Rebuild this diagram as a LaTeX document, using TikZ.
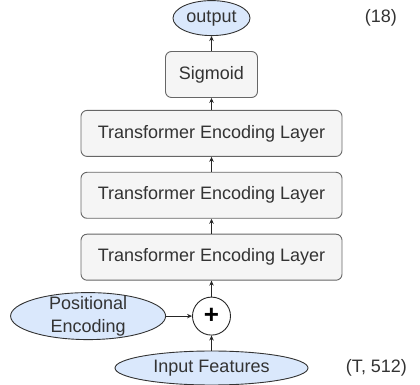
\documentclass[tikz,border=0pt]{standalone}
\usepackage{fontspec}
\setmainfont{Liberation Sans}
\usepackage{tikz}
\usetikzlibrary{positioning,arrows.meta,shapes.geometric}
\definecolor{txtgray}{HTML}{333333}
\definecolor{boxfill}{HTML}{F5F5F5}
\definecolor{boxline}{HTML}{666666}
\definecolor{ellfill}{HTML}{DAE8FC}
\tikzstyle{layer} = [rectangle, draw=boxline, fill=boxfill, rounded corners=6pt,
                     line width=0.9pt, minimum height=46pt, text=txtgray,
                     inner sep=0pt, text centered]
\tikzstyle{blob}  = [ellipse, draw=black!80, fill=ellfill, line width=0.9pt,
                     inner sep=0pt, text=txtgray, align=center]
\tikzstyle{dim}   = [text=txtgray]
\tikzstyle{ptr}   = [draw, -{Stealth[length=5pt,width=4.5pt]}, line width=0.9pt, black!85]

\begin{document}
\begin{tikzpicture}[x=1pt, y=1pt, node distance=15pt,
			every node/.style={font=\fontsize{18}{23}\selectfont}]
		\useasboundingbox (0,0) rectangle (420,385);
		\node[blob, minimum width=193pt, minimum height=34pt] (input) at (211.5,17) {Input Features};
		\node[circle, draw=black!85, fill=white, line width=0.9pt, minimum size=38pt, inner sep=0pt,
			above=15pt of input, font=\fontsize{26}{26}\selectfont\bfseries] (plus) {+};
		\node[blob, minimum width=155pt, minimum height=47pt, inner ysep=-4pt,
			left=26pt of plus] (pos) {Positional\\Encoding};
		\node[layer, minimum width=261pt, above=16pt of plus] (enc3) {Transformer Encoding Layer};
		\node[layer, minimum width=261pt, above=of enc3] (enc2) {Transformer Encoding Layer};
		\node[layer, minimum width=261pt, above=of enc2] (enc1) {Transformer Encoding Layer};
		\node[layer, minimum width=92pt, above=12pt of enc1] (sig) {Sigmoid};
		\node[blob, minimum width=77pt, minimum height=35pt, above=of sig] (out) {output};
		\node[dim, right=111pt of out] (outdim) {(18)};
		\node[dim, right=34pt of input] (indim) {(T, 512)};

		\path[ptr] (input) -- (plus);
		\path[ptr] (pos) -- (plus);
		\path[ptr] (plus) -- (enc3);
		\path[ptr] (enc3) -- (enc2);
		\path[ptr] (enc2) -- (enc1);
		\path[ptr] (enc1) -- (sig);
		\path[ptr] (sig) -- (out);
	\end{tikzpicture}
\end{document}
